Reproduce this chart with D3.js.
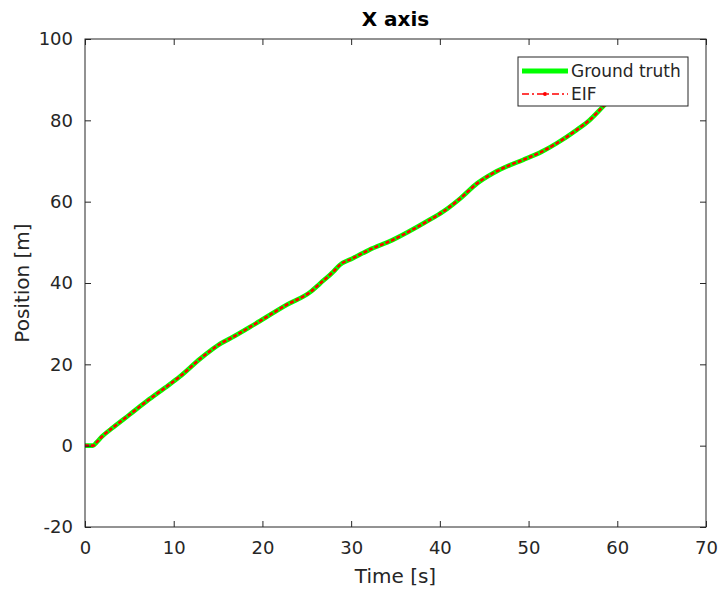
<!DOCTYPE html>
<html>
<head>
<meta charset="utf-8">
<script src="https://cdn.jsdelivr.net/npm/d3@7"></script>
<style>
  body { margin: 0; background: #fff; }
  text { font-family: "DejaVu Sans", sans-serif; fill: #262626; }
</style>
</head>
<body>
<div id="chart"></div>
<script>
// values
var time = [0, 0.9, 1.3, 1.9, 3, 5, 7, 9, 10.7, 13, 14.3, 15.2, 16.4, 19, 22.7, 25.4, 26.5, 28, 28.7, 30.2, 32, 34.7, 38.5, 40.4, 42.3, 44.2, 46, 47.9, 49.4, 51.5, 53.2, 55.4, 56.9, 58.4, 60];
var truth = [0, 0, 0.8, 2.2, 4.2, 7.6, 11.0, 14.2, 17.0, 21.4, 23.6, 25.0, 26.4, 29.7, 34.6, 37.8, 39.9, 42.8, 44.4, 46.1, 48.1, 50.6, 55.1, 57.6, 60.8, 64.5, 67.0, 69.0, 70.3, 72.3, 74.4, 77.6, 80.1, 83.4, 87.0];
var eif = truth.slice();
var xTicks = [0, 10, 20, 30, 40, 50, 60, 70];
var yTicks = [-20, 0, 20, 40, 60, 80, 100];

var W = 723, H = 591;
var margin = { top: 39, right: 17, bottom: 64, left: 85 },
  width = W - margin.left - margin.right,
  height = H - margin.top - margin.bottom;

var svg = d3.select("#chart").append("svg")
  .attr("width", W).attr("height", H)
  .append("g")
  .attr("transform", "translate(" + margin.left + "," + margin.top + ")");

var x = d3.scaleLinear().domain([0, 70]).range([0, width]);
var y = d3.scaleLinear().domain([-20, 100]).range([height, 0]);

var data = time.map(function (t, i) { return { t: t, g: truth[i], e: eif[i] }; });

svg.append("clipPath").attr("id", "clip")
  .append("rect").attr("width", width).attr("height", height);

var plot = svg.append("g").attr("clip-path", "url(#clip)");

var lineG = d3.line().curve(d3.curveMonotoneX)
  .x(function (d) { return x(d.t); })
  .y(function (d) { return y(d.g); });
var lineE = d3.line().curve(d3.curveMonotoneX)
  .x(function (d) { return x(d.t); })
  .y(function (d) { return y(d.e); });

plot.append("path").datum(data)
  .attr("fill", "none").attr("stroke", "#00ff00")
  .attr("stroke-width", 4.6).attr("stroke-linejoin", "round")
  .attr("d", lineG);

plot.append("path").datum(data)
  .attr("fill", "none").attr("stroke", "#ff0000")
  .attr("stroke-width", 2.6).attr("stroke-dasharray", "4,2")
  .attr("d", lineE);

// axes, ticks inward on all four sides
var axisColor = "#262626";
function styleAxis(g) {
  g.select(".domain").remove();
  g.selectAll(".tick line").attr("stroke", axisColor);
  g.selectAll(".tick text").attr("fill", axisColor)
    .style("font-family", "DejaVu Sans").style("font-size", "18px");
}

svg.append("g").attr("transform", "translate(0," + height + ")")
  .call(d3.axisBottom(x).tickValues(xTicks).tickSize(-6).tickPadding(14).tickFormat(String))
  .call(styleAxis);
svg.append("g")
  .call(d3.axisTop(x).tickValues(xTicks).tickSize(-6).tickFormat(""))
  .call(styleAxis);
svg.append("g")
  .call(d3.axisLeft(y).tickValues(yTicks).tickSize(-6).tickPadding(12).tickFormat(String))
  .call(styleAxis);
svg.append("g").attr("transform", "translate(" + width + ",0)")
  .call(d3.axisRight(y).tickValues(yTicks).tickSize(-6).tickFormat(""))
  .call(styleAxis);

svg.append("rect")
  .attr("width", width).attr("height", height)
  .attr("fill", "none").attr("stroke", axisColor).attr("stroke-width", 1);

// labels
svg.append("text")
  .attr("x", width / 2).attr("y", -13)
  .attr("text-anchor", "middle")
  .style("font-size", "20px").style("font-weight", "bold").style("fill", "#000")
  .text("X axis");

svg.append("text")
  .attr("x", width / 2).attr("y", height + 56)
  .attr("text-anchor", "middle")
  .style("font-size", "20px")
  .text("Time [s]");

svg.append("text")
  .attr("transform", "translate(-56," + (height / 2) + ") rotate(-90)")
  .attr("text-anchor", "middle")
  .style("font-size", "20px")
  .text("Position [m]");

// legend
var lg = svg.append("g").attr("transform", "translate(" + (518 - margin.left) + "," + (57 - margin.top) + ")");
lg.append("rect").attr("width", 170).attr("height", 49)
  .attr("fill", "#fff").attr("stroke", axisColor).attr("stroke-width", 1);
lg.append("line").attr("x1", 4).attr("x2", 50).attr("y1", 14).attr("y2", 14)
  .attr("stroke", "#00ff00").attr("stroke-width", 5);
lg.append("line").attr("x1", 4).attr("x2", 50).attr("y1", 37).attr("y2", 37)
  .attr("stroke", "#ff0000").attr("stroke-width", 1.5).attr("stroke-dasharray", "7,3,2,3");
lg.append("circle").attr("cx", 27).attr("cy", 37).attr("r", 2).attr("fill", "#ff0000");
lg.append("text").attr("x", 53).attr("y", 20).style("font-size", "17px").text("Ground truth");
lg.append("text").attr("x", 53).attr("y", 43).style("font-size", "17px").text("EIF");
</script>
</body>
</html>
